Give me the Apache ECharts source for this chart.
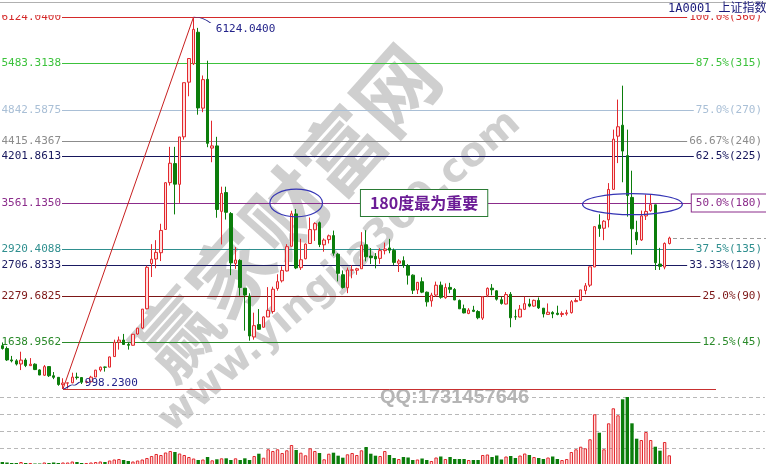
<!DOCTYPE html>
<html><head><meta charset="utf-8">
<script src="https://cdn.jsdelivr.net/npm/echarts/dist/echarts.min.js"></script>
<style>html,body{margin:0;padding:0;background:#fff}#c{width:766px;height:464px}</style>
</head><body><div id="c"></div>
<script>
// ---- categories: monthly bars from 2004-05, axis extended with empty future slots ----
const START_YEAR = 2004, START_MONTH = 5, AXIS_SLOTS = 164;
const months = [];
for (let k = 0; k < AXIS_SLOTS; k++) {
  const m = START_MONTH - 1 + k;
  months.push((START_YEAR + Math.floor(m / 12)) + '-' + String(m % 12 + 1).padStart(2, '0'));
}

// ---- monthly OHLC (上证指数) ----
const OPEN = [
  1595,1556,1399,1386,1343,1397,1320,1340,
  1261,1188,1307,1181,1159,1058,1079,1084,1163,1156,1092,1099,
  1163,1260,1300,1300,1445,1642,1673,1611,1601,1756,1838,2104,
  2728,2789,2876,3197,3842,4104,3818,4473,5226,5480,5914,4868,
  5265,4318,4348,3446,3705,3415,2729,2770,2387,2278,1716,1886,
  1849,1991,2066,2383,2489,2625,2965,3411,2670,2793,3003,3192,
  3289,2985,3057,3112,2855,2573,2393,2637,2635,2655,2985,2830,
  2826,2798,2905,2942,2907,2732,2767,2697,2567,2364,2477,2332,
  2212,2293,2429,2256,2398,2370,2219,2105,2039,2085,2066,1975,
  2289,2387,2351,2228,2169,2303,1994,1990,2096,2170,2141,2219,
  2112,2026,2053,2042,2024,2035,2050,2202,2220,2356,2429,2680,
  3259,3213,3330,3749,4482,4633,4214,3638,3158,3052,3383,3456,
  3536,2720,2678,3003
];
const HIGH = [
  1640,1584,1454,1409,1512,1422,1424,1352,
  1270,1328,1311,1232,1162,1146,1084,1223,1223,1157,1114,1180,
  1262,1307,1307,1445,1678,1721,1757,1637,1757,1839,2100,2698,
  2994,3049,3275,3848,4335,4335,4471,5219,5552,6124.04,5974,5318,
  5522,4695,4473,3786,3786,3436,2953,2787,2387,2318,2050,2100,
  2000,2402,2408,2579,2689,2993,3454,3478,3068,3003,3361,3296,
  3306,3073,3126,3181,2870,2632,2672,2704,2668,3159,3186,2940,
  2871,2938,3016,3067,2934,2786,2826,2719,2578,2473,2536,2341,
  2324,2478,2478,2453,2461,2389,2231,2161,2112,2144,2084,2276,
  2398,2444,2358,2268,2334,2334,2092,2156,2270,2242,2230,2260,
  2113,2177,2070,2146,2068,2089,2224,2248,2364,2458,2683,3239,
  3406,3325,3835,4572,4986,5178,4572,4006,3317,3457,3678,3684,
  3538,2943,3018,3097
];
const LOW = [
  1541,1385,1365,1322,1259,1300,1316,1259,
  1189,1179,1164,1134,1043,998.23,1004,1077,1128,1067,1074,1089,
  1163,1237,1238,1299,1441,1541,1605,1541,1596,1748,1826,2095,
  2541,2662,2761,3193,3802,3404,3563,4435,5032,5462,4778,4812,
  4330,4123,3358,2990,3333,2566,2653,2284,1802,1664,1678,1814,
  1844,1990,2037,2353,2466,2618,2962,2650,2639,2785,3003,3039,
  2953,2890,3003,2835,2481,2382,2319,2524,2572,2655,2757,2721,
  2661,2723,2853,2869,2707,2610,2668,2437,2307,2307,2319,2134,
  2132,2269,2242,2242,2318,2223,2100,2040,2029,2058,1959,1949,
  2264,2290,2217,2161,2163,1849,1951,1985,2086,2125,2131,2101,
  1984,2024,1974,2014,1991,2010,2038,2195,2214,2302,2403,2678,
  3095,3049,3225,3747,4111,3847,3373,2851,2983,3039,3327,3440,
  2638,2639,2648,2990
];
const CLOSE = [
  1556,1399,1386,1342,1396,1321,1340,1266,
  1191,1306,1181,1159,1060,1080,1083,1162,1155,1092,1099,1161,
  1258,1299,1298,1440,1641,1672,1612,1601,1752,1837,2099,2675,
  2786,2881,3183,3841,4109,3821,4471,5219,5552,5954,4871,5261,
  4383,4348,3472,3693,3433,2736,2775,2397,2293,1729,1871,1821,
  1991,2082,2373,2477,2632,2959,3412,2667,2779,2995,3195,3277,
  2989,3051,3109,2870,2592,2398,2637,2638,2655,2979,2820,2808,
  2790,2905,2928,2911,2743,2762,2701,2567,2359,2468,2333,2199,
  2292,2428,2262,2396,2372,2225,2103,2047,2086,2068,1980,2269,
  2385,2365,2236,2177,2300,1979,1993,2098,2174,2141,2220,2116,
  2033,2056,2033,2026,2039,2048,2201,2217,2364,2420,2682,3235,
  3210,3310,3748,4441,4612,4277,3664,3206,3053,3383,3445,3539,
  2738,2688,3004,3078
];
// ---- monthly volume (relative units) ----
const VOLUME = [
  88,74,59,59,88,59,59,44,
  44,74,59,74,59,74,74,103,88,59,59,74,
  88,103,88,132,162,176,147,118,103,132,162,206,
  265,324,294,368,412,382,338,294,235,191,147,162,
  235,138,168,197,197,147,197,147,197,147,265,332,
  215,462,412,462,353,432,588,441,362,285,491,412,
  353,168,332,362,274,215,315,353,294,432,529,332,
  274,265,412,294,206,176,235,221,147,162,191,147,
  118,221,250,176,235,176,176,176,147,147,147,294,
  309,235,279,162,250,265,206,279,338,294,235,206,
  176,221,250,176,147,176,382,462,538,491,756,1491,
  950,462,1226,1668,1462,1932,2000,1226,774,735,971,735,
  538,421,676,285
];
const VOL_MAX = 2000, VOL_STEP = 500;

// ---- Gann / percentage levels (tick labels) ----
const LEVEL_PRICE = [6124.04, 5483.3138, 4842.5875, 4415.4367, 4201.8613, 3561.135, 2920.4088, 2706.8333, 2279.6825, 1638.9562];
const LEVEL_LEFT  = ['6124.0400','5483.3138','4842.5875','4415.4367','4201.8613','3561.1350','2920.4088','2706.8333','2279.6825','1638.9562'];
const LEVEL_RIGHT = ['100.0%(360)','87.5%(315)','75.0%(270)','66.67%(240)','62.5%(225)','50.0%(180)','37.5%(135)','33.33%(120)','25.0%(90)','12.5%(45)'];
const BASE_PRICE = 998.23;
const PEAK_TEXT = '6124.0400', LOW_TEXT = '998.2300';
const NOTE_TEXT = '180度最为重要';
// ellipses: [centre month index, half width (months), centre price, half height (points)]
const ELLIPSES = [[63, 5.65, 3561.135, 190], [135.1, 10.7, 3545, 145]];
const NOTE_INDEX = 90;

// ---- styles ----
const LINE_COLOR = ['#d42a2a','#3cc23c','#a9bfd6','#8c8c8c','#16165c','#8b2c8b','#2f8f8f','#1a1a62','#7d1717','#2a8a2a'];
const MONO = '"DejaVu Sans Mono", monospace';
const UP = '#e2282d', UP_FILL = '#ffdcdc', DOWN = '#0b7d0b', NAVY = '#23238a';

const PRICE_MIN = BASE_PRICE, PRICE_MAX = LEVEL_PRICE[0];
const peakIdx = HIGH.indexOf(Math.max(...HIGH));
const lowIdx = LOW.indexOf(Math.min(...LOW));
const lastIdx = CLOSE.length - 1;

const candleData = OPEN.map((o, i) => [o, CLOSE[i], LOW[i], HIGH[i]]);
const volData = VOLUME.map((v, i) => ({
  value: v,
  itemStyle: CLOSE[i] >= OPEN[i] ? {color: UP_FILL, borderColor: UP, borderWidth: 1} : {color: DOWN, borderColor: DOWN, borderWidth: 0}
}));

const mlData = [];
LEVEL_PRICE.forEach((p, k) => {
  const col = LINE_COLOR[k];
  const boxed = k === 5;
  mlData.push([
    {yAxis: p, x: 62, lineStyle: {color: col, width: 1, type: 'solid'},
     label: {show: true, position: 'start', distance: 1, formatter: LEVEL_LEFT[k], color: col, fontFamily: MONO, fontSize: 11}},
    {yAxis: p, x: 400}
  ]);
  mlData.push([
    {yAxis: p, x: 400, lineStyle: {color: col, width: 1, type: 'solid'},
     label: {show: true, position: 'insideEnd', distance: 0, formatter: LEVEL_RIGHT[k], color: col, fontFamily: MONO, fontSize: 11,
             backgroundColor: '#ffffff', padding: boxed ? [3, 4] : [1, 2], borderColor: boxed ? col : 'transparent', borderWidth: boxed ? 1 : 0}},
    {yAxis: p, x: boxed ? 766 : 764}
  ]);
});
mlData.push([{yAxis: BASE_PRICE, x: 63, lineStyle: {color: '#c83030', width: 1, type: 'solid'}}, {yAxis: BASE_PRICE, x: 716}]);
mlData.push([{coord: [months[lowIdx], LOW[lowIdx]], lineStyle: {color: '#c82020', width: 1, type: 'solid'}}, {coord: [months[peakIdx], HIGH[peakIdx]]}]);
mlData.push([{yAxis: CLOSE[lastIdx], x: 673, lineStyle: {color: '#9c9c9c', width: 1, type: [4, 3]}}, {yAxis: CLOSE[lastIdx], x: 766}]);

const chart = echarts.init(document.getElementById('c'), null, {renderer: 'canvas'});
chart.setOption({
  animation: false,
  backgroundColor: '#ffffff',
  grid: [
    {left: 0, top: 17, width: 764.9, height: 372, outerBoundsMode: 'none'},
    {left: 0, top: 397, width: 764.9, height: 68, outerBoundsMode: 'none'}
  ],
  xAxis: [
    {type: 'category', data: months, gridIndex: 0, boundaryGap: true, show: false},
    {type: 'category', data: months, gridIndex: 1, boundaryGap: true, show: false}
  ],
  yAxis: [
    {type: 'value', gridIndex: 0, min: PRICE_MIN, max: PRICE_MAX, show: false, splitLine: {show: false}},
    {type: 'value', gridIndex: 1, min: 0, max: VOL_MAX, interval: VOL_STEP,
     axisLine: {show: false}, axisTick: {show: false}, axisLabel: {show: false},
     splitLine: {show: true, lineStyle: {color: '#b8b8b8', width: 1, type: [4, 3]}}}
  ],
  graphic: [
    {type: 'text', x: 286, y: 212, rotation: 0.84, z: 0, silent: true,
     style: {text: '赢家财富网', fontSize: 82, fontWeight: 'bold', fontFamily: '"Noto Sans CJK SC"', fill: 'rgba(140,140,140,0.42)',
             align: 'center', verticalAlign: 'middle', textAlign: 'center', textVerticalAlign: 'middle'}},
    {type: 'text', x: 340, y: 272, rotation: 0.72, z: 0, silent: true,
     style: {text: 'www.yingjia360.com', fontSize: 40, fontWeight: 'bold', fontFamily: '"DejaVu Sans"', fill: 'rgba(140,140,140,0.42)',
             align: 'center', verticalAlign: 'middle', textAlign: 'center', textVerticalAlign: 'middle'}},
    {type: 'text', x: 380, y: 397, z: 0, silent: true,
     style: {text: 'QQ:1731457646', fontSize: 20, fontWeight: 'bold', fontFamily: '"Liberation Sans"', fill: '#b5b5b5',
             align: 'left', verticalAlign: 'middle', textAlign: 'left', textVerticalAlign: 'middle'}},
    {type: 'rect', z: 100, silent: true, shape: {x: 0, y: 0, width: 766, height: 15}, style: {fill: '#ffffff'}},
    {type: 'line', z: 101, silent: true, shape: {x1: 0, y1: 2.5, x2: 766, y2: 2.5}, style: {stroke: '#b0b0b0', lineWidth: 1}},
    {type: 'text', x: 668, y: 9, z: 102, silent: true,
     style: {text: '1A0001 上证指数', fontSize: 12, fontFamily: '"DejaVu Sans Mono", "Noto Sans CJK SC"', fill: '#1a1a7a',
             align: 'left', verticalAlign: 'middle', textAlign: 'left', textVerticalAlign: 'middle'}}
  ],
  series: [
    {
      type: 'candlestick', xAxisIndex: 0, yAxisIndex: 0, z: 2, barWidth: 3, silent: true,
      data: candleData,
      itemStyle: {color: UP_FILL, color0: DOWN, borderColor: UP, borderColor0: DOWN, borderWidth: 1},
      markLine: {symbol: ['none', 'none'], silent: true, z: 1, animation: false, label: {show: false}, data: mlData},
      markPoint: {
        silent: true, z: 6, animation: false,
        data: [
          {coord: [months[peakIdx], HIGH[peakIdx]], symbol: 'path://M0,0 C7,0 12,2 17,6', symbolSize: [17, 6], symbolOffset: [8.5, 3],
           itemStyle: {color: 'none', borderColor: NAVY, borderWidth: 1},
           label: {show: true, position: 'right', distance: 1, offset: [0, 9], formatter: PEAK_TEXT, color: NAVY, fontFamily: MONO, fontSize: 11}},
          {coord: [months[lowIdx], LOW[lowIdx]], symbol: 'path://M0,7 C5,7 8,2 12,3 C15,4 17,1 20,0', symbolSize: [17, 7], symbolOffset: [8.5, -3.5],
           itemStyle: {color: 'none', borderColor: NAVY, borderWidth: 1},
           label: {show: true, position: 'right', distance: 1, offset: [0, -2], formatter: LOW_TEXT, color: NAVY, fontFamily: MONO, fontSize: 11}},
          {coord: [months[NOTE_INDEX], LEVEL_PRICE[5]], symbol: 'rect', symbolSize: 1, itemStyle: {color: 'transparent'},
           label: {show: true, position: 'inside', offset: [2, 0], formatter: NOTE_TEXT, fontSize: 16, fontWeight: 'bold',
                   fontFamily: '"Noto Sans CJK SC"', color: '#6c1d96', backgroundColor: '#ffffff', borderColor: '#2a7a34', borderWidth: 1, padding: [5, 9]}}
        ]
      }
    },
    {
      type: 'custom', xAxisIndex: 0, yAxisIndex: 0, z: 4, silent: true,
      data: ELLIPSES,
      renderItem: function (params, api) {
        const c = api.value(0), base = Math.floor(c);
        const band = api.size([1, 0])[0];
        const pt = api.coord([base, api.value(2)]);
        const cx = pt[0] + (c - base) * band;
        const rx = api.value(1) * band;
        const ry = api.size([0, api.value(3) * 2], [base, api.value(2)])[1] / 2;
        return {type: 'ellipse', shape: {cx: cx, cy: pt[1], rx: rx, ry: ry}, style: {fill: 'none', stroke: '#3535b5', lineWidth: 1.2}};
      }
    },
    {
      type: 'bar', xAxisIndex: 1, yAxisIndex: 1, barWidth: 3.4, silent: true, data: volData
    }
  ]
});
</script>
</body></html>
